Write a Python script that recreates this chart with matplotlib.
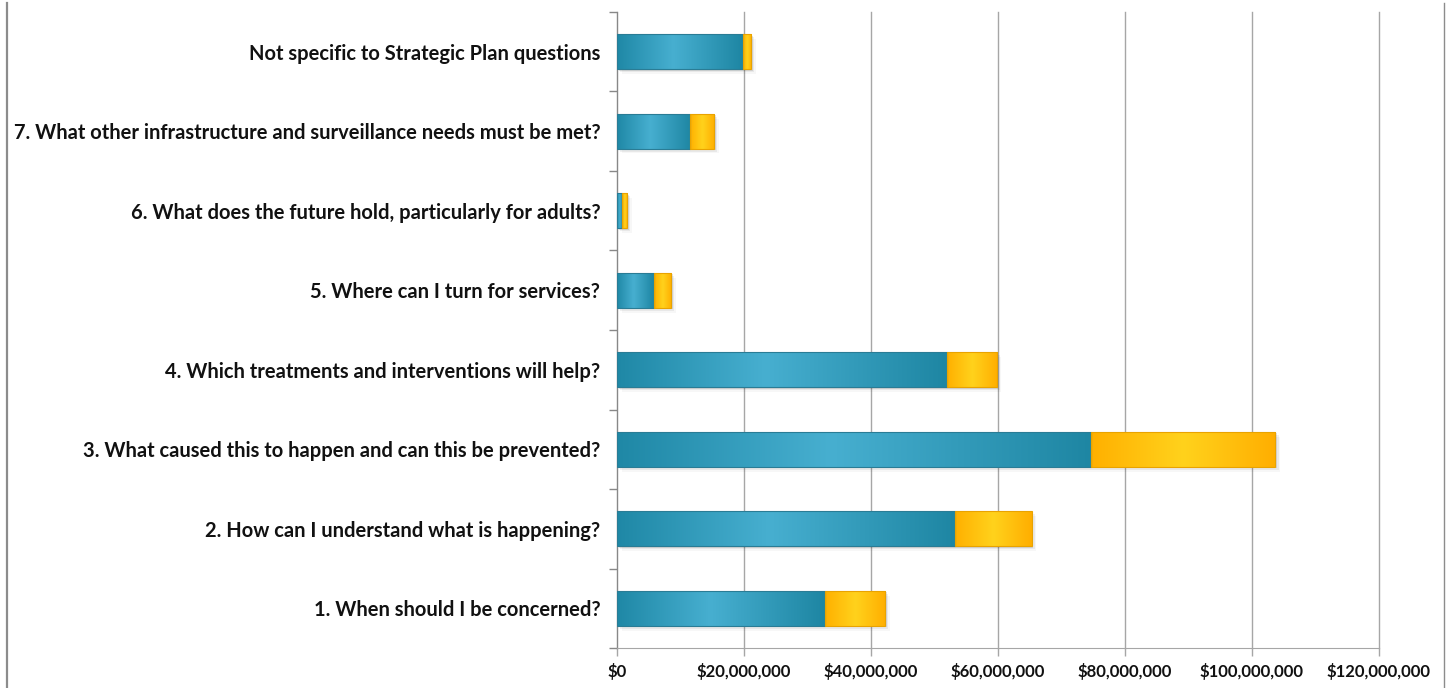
"""Funding by Strategic Plan question, stacked horizontal bars with gradient fill."""

import matplotlib.pyplot as plt
import numpy as np
from matplotlib.colors import LinearSegmentedColormap
from matplotlib.lines import Line2D
from matplotlib.patches import Rectangle
from matplotlib.ticker import FuncFormatter, MultipleLocator

questions = [
    "1. When should I be concerned?",
    "2. How can I understand what is happening?",
    "3. What caused this to happen and can this be prevented?",
    "4. Which treatments and interventions will help?",
    "5. Where can I turn for services?",
    "6. What does the future hold, particularly for adults?",
    "7. What other infrastructure and surveillance needs must be met?",
    "Not specific to Strategic Plan questions",
]
# values in dollars
teal_values = [32.7e6, 53.3e6, 74.7e6, 51.9e6, 5.8e6, 0.8e6, 11.5e6, 19.8e6]
gold_values = [9.5e6, 12.0e6, 29.0e6, 7.9e6, 2.7e6, 0.8e6, 3.8e6, 1.3e6]

plt.rcParams["font.family"] = ["Lato", "DejaVu Sans"]

teal_cmap = LinearSegmentedColormap.from_list(
    "teal", [(0.0, "#1f88a6"), (0.45, "#47afd0"), (1.0, "#1e86a3")])
gold_cmap = LinearSegmentedColormap.from_list(
    "gold", [(0.0, "#ffb000"), (0.5, "#ffd21c"), (1.0, "#ffae00")])
grad = np.linspace(0, 1, 256).reshape(1, -1)

fig = plt.figure(figsize=(14.48, 6.88), dpi=100)
ax = fig.add_axes([0.4261, 0.0581, 0.5262, 0.9245])

y = np.arange(len(questions))
bar_h = 0.44


def gradient_bars(bars, cmap, edge):
    for rect in bars:
        x0, w = rect.get_x(), rect.get_width()
        y0, h = rect.get_y(), rect.get_height()
        # soft drop shadow
        for k, a in enumerate([0.10, 0.06, 0.03]):
            off = 0.02 * (k + 1)
            ax.add_patch(Rectangle((x0 + 0.25e6 * (k + 1), y0 - off), w, h,
                                   facecolor="#000000", alpha=a, lw=0, zorder=2))
        img = ax.imshow(grad, cmap=cmap, aspect="auto", extent=(x0, x0 + w, y0, y0 + h),
                        zorder=3, interpolation="bicubic")
        img.set_clip_path(rect)
        rect.set_facecolor("none")
        rect.set_edgecolor(edge)
        rect.set_linewidth(0.8)
        rect.set_zorder(4)


teal_bars = ax.barh(y, teal_values, height=bar_h)
gold_bars = ax.barh(y, gold_values, left=teal_values, height=bar_h)
gradient_bars(teal_bars, teal_cmap, "#2a7c95")
gradient_bars(gold_bars, gold_cmap, "#e9a300")

ax.set_xlim(0, 120e6)
ax.set_ylim(-0.5, len(questions) - 0.5)
ax.xaxis.set_major_locator(MultipleLocator(20e6))
ax.xaxis.set_major_formatter(FuncFormatter(lambda v, _: f"${v:,.0f}"))
ax.grid(axis="x", color="#a6a6a6", linewidth=1.0, zorder=0)
ax.set_axisbelow(True)
for gl in ax.get_xgridlines():
    gl.set_clip_on(False)

ax.set_yticks(y)
ax.set_yticklabels(questions, fontsize=14.5, fontweight="bold", color="#111111")
ax.set_yticks(np.arange(-0.5, len(questions)), minor=True)
ax.tick_params(axis="y", which="major", length=0, pad=12)
ax.tick_params(axis="y", which="minor", length=6, color="#888888", width=1)
ax.tick_params(axis="x", length=6, color="#a6a6a6", width=1, pad=5,
               labelsize=12, labelcolor="#111111")
for lbl in ax.get_xticklabels():
    lbl.set_fontweight("bold")

for side in ("top", "right"):
    ax.spines[side].set_visible(False)
ax.spines["left"].set_color("#888888")
ax.spines["bottom"].set_color("#a6a6a6")

# slide frame lines at the edges
fig.add_artist(Line2D([0.0045, 0.0045], [0.0, 0.995], color="#8c8c8c", lw=1.6))
fig.add_artist(Line2D([0.9975, 0.9975], [0.0, 0.995], color="#8c8c8c", lw=1.0))

fig.savefig("out.png", dpi=100)
